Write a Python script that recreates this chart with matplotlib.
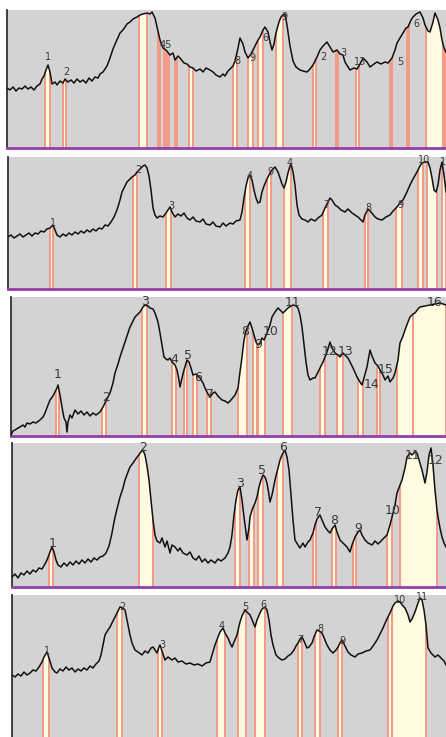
import matplotlib.pyplot as plt
import numpy as np

# figure size in pixels
W, H = 446, 737

# panel frames: (left x, top row, bottom row) in image pixels
frames = [(7, 10, 148), (8, 157, 289), (11, 297, 436), (12, 443, 587), (12, 595, 737)]

# traces: (x, row)
trace1 = [(7, 88), (10, 90), (13, 87), (16, 91), (19, 88), (22, 89), (25, 86), (28, 89), (31, 87), (34, 90),
          (37, 86), (40, 84), (42, 79), (44, 76), (46, 70), (48, 65), (50, 72), (52, 84), (55, 82), (57, 85),
          (60, 81), (63, 83), (65, 79), (68, 82), (71, 80), (74, 83), (77, 79), (80, 82), (83, 80), (86, 83),
          (89, 78), (92, 81), (95, 77), (98, 78), (100, 74), (103, 72), (105, 69), (107, 66), (110, 58), (113, 49),
          (116, 42), (120, 33), (123, 30), (127, 24), (130, 22), (133, 19), (137, 17), (140, 15), (143, 14), (147, 13),
          (150, 14), (152, 12), (155, 18), (157, 27), (160, 40), (163, 48), (166, 50), (170, 55), (173, 53), (175, 60),
          (178, 56), (180, 58), (184, 63), (187, 64), (190, 67), (193, 68), (196, 71), (200, 69), (203, 72), (206, 68),
          (210, 70), (213, 72), (216, 75), (220, 77), (223, 74), (225, 76), (228, 71), (230, 69), (233, 66), (235, 61),
          (238, 48), (240, 38), (243, 44), (245, 52), (248, 58), (251, 54), (255, 46), (258, 40), (260, 37), (263, 30),
          (265, 27), (268, 32), (270, 42), (272, 50), (274, 44), (276, 33), (279, 22), (281, 17), (283, 15), (285, 14),
          (287, 25), (290, 46), (293, 61), (296, 67), (300, 70), (303, 71), (307, 72), (310, 69), (313, 65), (317, 57),
          (320, 50), (323, 46), (327, 42), (330, 47), (333, 52), (337, 50), (340, 54), (343, 55), (345, 62), (348, 67),
          (350, 70), (354, 68), (357, 69), (360, 64), (363, 58), (367, 62), (370, 67), (374, 64), (377, 62), (381, 64),
          (385, 62), (388, 63), (392, 58), (395, 50), (397, 43), (400, 38), (403, 33), (406, 28), (408, 27), (411, 20),
          (413, 17), (416, 14), (420, 12), (423, 18), (425, 25), (428, 31), (430, 32), (433, 22), (435, 13), (438, 20),
          (440, 28), (442, 40), (444, 48), (446, 52)]

trace2 = [(8, 237), (11, 235), (14, 238), (17, 236), (20, 234), (23, 237), (26, 235), (29, 233), (32, 236), (35, 233),
          (38, 234), (41, 231), (44, 232), (47, 229), (50, 228), (53, 225), (55, 230), (57, 235), (60, 237), (63, 234),
          (66, 236), (69, 233), (72, 235), (75, 232), (78, 234), (81, 231), (84, 233), (87, 230), (90, 232), (93, 229),
          (96, 231), (99, 228), (102, 229), (105, 225), (108, 226), (111, 222), (114, 217), (117, 210), (120, 200), (122, 192),
          (125, 186), (127, 182), (130, 179), (132, 177), (135, 175), (137, 172), (140, 169), (143, 166), (145, 165), (147, 168),
          (149, 176), (151, 190), (153, 208), (155, 215), (157, 218), (160, 216), (163, 217), (166, 213), (168, 210), (170, 207),
          (172, 212), (175, 217), (178, 214), (181, 216), (184, 213), (187, 218), (190, 220), (193, 217), (196, 221), (200, 222),
          (203, 219), (206, 224), (210, 225), (213, 222), (216, 226), (220, 227), (223, 223), (226, 226), (230, 223), (233, 224),
          (236, 221), (240, 220), (242, 212), (244, 198), (246, 186), (248, 178), (250, 175), (252, 180), (254, 190), (256, 198),
          (258, 203), (260, 202), (262, 192), (264, 186), (267, 179), (270, 173), (272, 170), (275, 167), (278, 172), (280, 178),
          (282, 184), (284, 188), (286, 182), (288, 173), (290, 166), (291, 164), (293, 172), (295, 185), (297, 205), (299, 215),
          (302, 219), (305, 220), (308, 222), (311, 219), (315, 221), (318, 218), (322, 215), (325, 208), (327, 204), (330, 198),
          (332, 200), (335, 205), (338, 207), (341, 210), (345, 212), (348, 209), (352, 213), (355, 215), (358, 217), (361, 220),
          (363, 222), (365, 215), (368, 209), (371, 212), (375, 217), (378, 219), (382, 220), (386, 217), (390, 215), (393, 211),
          (397, 207), (400, 203), (403, 200), (406, 194), (410, 185), (413, 179), (417, 172), (420, 166), (422, 163), (425, 162),
          (428, 162), (430, 168), (432, 178), (434, 190), (436, 192), (438, 185), (440, 170), (442, 162), (444, 175), (446, 192)]

trace3 = [(11, 435), (13, 431), (15, 430), (18, 428), (20, 427), (23, 425), (25, 427), (27, 423), (30, 424), (33, 422),
          (36, 423), (40, 420), (43, 417), (45, 413), (48, 405), (50, 400), (53, 396), (55, 392), (57, 388), (58, 385),
          (60, 395), (62, 407), (64, 418), (66, 422), (67, 432), (68, 422), (70, 415), (72, 418), (75, 410), (78, 414),
          (81, 411), (84, 415), (87, 412), (90, 416), (93, 413), (96, 415), (100, 412), (103, 407), (105, 403), (108, 397),
          (110, 393), (113, 383), (115, 373), (118, 364), (120, 357), (123, 348), (125, 342), (128, 333), (130, 327), (133, 321),
          (135, 317), (138, 314), (140, 312), (143, 307), (145, 305), (148, 306), (150, 308), (153, 309), (155, 313), (158, 322),
          (160, 333), (162, 345), (164, 357), (166, 359), (168, 360), (170, 358), (172, 362), (175, 365), (177, 370), (179, 380),
          (180, 387), (182, 378), (184, 370), (187, 360), (189, 362), (191, 368), (193, 375), (196, 374), (200, 378), (203, 383),
          (205, 388), (208, 394), (210, 397), (213, 393), (215, 392), (218, 396), (222, 400), (225, 401), (228, 403), (231, 400),
          (235, 395), (238, 388), (240, 372), (242, 357), (244, 340), (246, 331), (248, 326), (250, 322), (252, 328), (254, 335),
          (256, 342), (258, 345), (260, 343), (262, 338), (264, 340), (267, 333), (270, 325), (272, 317), (275, 312), (278, 308),
          (281, 311), (283, 313), (286, 310), (288, 308), (291, 306), (293, 305), (296, 306), (298, 308), (300, 315), (302, 327),
          (304, 345), (306, 362), (308, 375), (310, 380), (313, 378), (315, 378), (318, 372), (320, 368), (323, 362), (325, 357),
          (327, 352), (330, 342), (332, 348), (335, 353), (338, 355), (340, 357), (343, 353), (345, 355), (348, 358), (350, 362),
          (353, 368), (357, 377), (360, 382), (362, 385), (364, 378), (367, 367), (369, 356), (370, 350), (372, 356), (375, 363),
          (378, 366), (380, 370), (383, 375), (385, 380), (388, 376), (390, 382), (393, 378), (395, 373), (398, 360), (400, 343),
          (403, 336), (405, 330), (408, 322), (410, 317), (413, 314), (415, 313), (418, 309), (420, 307), (425, 306), (430, 305),
          (435, 304), (440, 303), (443, 304), (446, 305)]

trace4 = [(12, 577), (15, 574), (18, 578), (21, 573), (24, 575), (27, 571), (30, 574), (33, 570), (36, 572), (39, 568),
          (42, 569), (45, 564), (47, 560), (50, 552), (52, 547), (54, 552), (56, 560), (58, 565), (61, 567), (64, 563),
          (67, 566), (70, 562), (73, 565), (76, 561), (79, 564), (82, 560), (85, 563), (88, 559), (91, 562), (94, 558),
          (97, 560), (100, 557), (103, 556), (106, 553), (109, 546), (112, 533), (114, 522), (116, 513), (118, 505), (120, 497),
          (123, 488), (125, 480), (128, 472), (130, 467), (133, 463), (135, 460), (138, 456), (140, 453), (143, 450), (145, 455),
          (147, 466), (149, 480), (151, 500), (153, 520), (155, 535), (157, 541), (160, 543), (162, 538), (165, 547), (167, 541),
          (170, 553), (172, 545), (175, 547), (178, 551), (180, 548), (183, 553), (187, 555), (190, 552), (193, 558), (196, 560),
          (199, 556), (202, 562), (205, 559), (208, 563), (211, 560), (215, 563), (218, 559), (221, 561), (225, 558), (228, 553),
          (230, 547), (232, 535), (234, 515), (236, 500), (238, 490), (240, 487), (242, 500), (244, 517), (246, 532), (247, 540),
          (249, 528), (250, 517), (252, 510), (255, 503), (257, 497), (259, 487), (261, 480), (263, 475), (265, 477), (267, 483),
          (269, 495), (270, 502), (272, 495), (275, 480), (277, 472), (280, 460), (282, 455), (285, 450), (287, 457), (289, 470),
          (291, 495), (293, 520), (295, 540), (298, 545), (300, 548), (303, 543), (305, 547), (308, 542), (310, 540), (313, 533),
          (315, 525), (317, 519), (320, 515), (322, 520), (325, 527), (328, 531), (330, 533), (332, 529), (335, 525), (337, 532),
          (340, 540), (343, 543), (347, 547), (350, 552), (352, 545), (355, 537), (358, 532), (360, 530), (362, 535), (365, 540),
          (368, 543), (372, 545), (375, 541), (378, 544), (380, 542), (384, 538), (387, 535), (390, 525), (392, 517), (395, 505),
          (397, 493), (400, 485), (402, 480), (405, 468), (407, 457), (410, 453), (412, 455), (415, 452), (417, 453), (419, 460),
          (422, 470), (425, 483), (427, 472), (429, 455), (431, 448), (433, 465), (435, 490), (437, 510), (438, 517), (440, 528),
          (442, 537), (444, 543), (446, 547)]

trace5 = [(12, 675), (15, 677), (18, 674), (21, 676), (24, 672), (27, 675), (30, 673), (33, 670), (36, 671), (39, 667),
          (42, 662), (44, 657), (47, 652), (49, 658), (52, 668), (55, 672), (57, 673), (60, 669), (63, 671), (66, 667),
          (69, 670), (72, 668), (75, 672), (78, 669), (81, 671), (84, 668), (87, 670), (90, 666), (93, 668), (96, 664),
          (99, 661), (101, 655), (103, 645), (105, 635), (108, 630), (110, 627), (113, 621), (115, 617), (118, 611), (120, 607),
          (123, 608), (125, 610), (128, 625), (130, 635), (132, 643), (135, 650), (138, 652), (142, 655), (145, 651), (148, 653),
          (151, 648), (153, 647), (155, 650), (157, 653), (159, 647), (160, 645), (162, 651), (165, 660), (168, 657), (172, 660),
          (175, 658), (178, 662), (182, 661), (186, 664), (190, 663), (194, 665), (198, 664), (202, 666), (206, 663), (210, 662),
          (212, 655), (215, 645), (218, 637), (220, 632), (223, 628), (225, 633), (228, 638), (230, 643), (232, 647), (234, 642),
          (237, 635), (240, 622), (242, 616), (245, 610), (247, 612), (250, 615), (253, 622), (255, 627), (257, 620), (260, 613),
          (262, 609), (265, 607), (267, 610), (269, 620), (271, 635), (273, 645), (276, 655), (279, 658), (282, 660), (285, 659),
          (288, 656), (291, 654), (294, 650), (296, 646), (298, 643), (300, 639), (302, 637), (304, 641), (307, 648), (309, 647),
          (312, 643), (314, 637), (317, 630), (319, 631), (322, 633), (325, 640), (327, 645), (330, 650), (333, 653), (336, 650),
          (338, 647), (340, 643), (342, 640), (345, 646), (348, 652), (351, 655), (355, 657), (358, 654), (362, 653), (366, 651),
          (370, 650), (373, 646), (377, 640), (380, 634), (383, 628), (386, 621), (390, 613), (393, 606), (395, 603), (398, 601),
          (400, 602), (403, 606), (405, 608), (408, 615), (410, 622), (412, 619), (415, 612), (418, 603), (420, 598), (422, 600),
          (424, 610), (426, 625), (428, 648), (431, 653), (435, 657), (438, 655), (441, 658), (444, 661), (446, 665)]

# integration bands (start x, end x)
bands1 = [(45, 50), (63, 66), (139, 147), (158, 160), (164, 166), (167, 169), (175, 177), (189, 193), (233, 237),
          (248, 253), (258, 263), (276, 283), (313, 316), (336, 338), (356, 359), (390, 392), (407, 409), (426, 443), (444, 446)]
bands2 = [(50, 53), (133, 137), (166, 171), (245, 250), (267, 271), (284, 291), (323, 328), (365, 368), (396, 402),
          (418, 423), (427, 437), (442, 446)]
bands3 = [(56, 59), (102, 106), (142, 147), (172, 176), (184, 187), (193, 197), (207, 211), (238, 247), (253, 257),
          (258, 265), (283, 292), (320, 325), (337, 343), (358, 363), (377, 380), (397, 413), (413, 446)]
bands4 = [(49, 53), (139, 153), (235, 240), (249, 254), (258, 263), (277, 283), (313, 316), (332, 336), (353, 356),
          (387, 392), (400, 437)]
bands5 = [(43, 49), (117, 122), (158, 162), (217, 225), (238, 246), (255, 265), (298, 302), (315, 320), (338, 342),
          (388, 392), (392, 426)]

# peak labels (text, x, row)
labels1 = [("1", 48, 57), ("2", 66, 72), ("45", 166, 45), ("8", 237, 61), ("9", 252, 58), ("6", 265, 38),
           ("9", 284, 17), ("2", 323, 57), ("3", 343, 53), ("13", 360, 62), ("5", 400, 62), ("6", 416, 24)]
labels2 = [("1", 53, 223), ("2", 138, 170), ("3", 171, 206), ("4", 250, 176), ("9", 270, 172), ("4", 290, 163),
           ("7", 326, 205), ("8", 368, 208), ("9", 400, 205), ("10", 424, 160), ("1", 443, 162)]
labels3 = [("1", 58, 375), ("2", 106, 398), ("3", 145, 302), ("4", 174, 360), ("5", 188, 356), ("6", 198, 378),
           ("7", 210, 395), ("8", 245, 332), ("9", 258, 345), ("10", 271, 332), ("11", 293, 303), ("12", 330, 352),
           ("13", 346, 352), ("14", 372, 385), ("15", 386, 370), ("16", 435, 303)]
labels4 = [("1", 53, 543), ("2", 143, 447), ("3", 240, 483), ("5", 262, 470), ("6", 283, 447), ("7", 318, 512),
           ("8", 334, 520), ("9", 358, 528), ("10", 393, 510), ("11", 413, 455), ("12", 436, 460)]
labels5 = [("1", 47, 651), ("2", 122, 607), ("3", 162, 645), ("4", 222, 626), ("5", 245, 607), ("6", 263, 605),
           ("7", 300, 640), ("8", 320, 629), ("9", 342, 641), ("10", 400, 600), ("11", 422, 597)]

traces = [trace1, trace2, trace3, trace4, trace5]
bands = [bands1, bands2, bands3, bands4, bands5]
labels = [labels1, labels2, labels3, labels4, labels5]
label_size = [7, 7, 9, 9, 7]

fig = plt.figure(figsize=(W / 100, H / 100), dpi=100)

for i in range(5):
    left, top, bottom = frames[i]
    ax = fig.add_axes([left / W, 1 - bottom / H, (W - left) / W, (bottom - top) / H])
    ax.set_facecolor('#d3d3d3')
    ax.set_xlim(left, W)
    ax.set_ylim(bottom, top)
    ax.set_xticks([])
    ax.set_yticks([])
    for s in ['top', 'right']:
        ax.spines[s].set_visible(False)
    ax.spines['left'].set_color('#333333')
    ax.spines['left'].set_linewidth(1.3)
    ax.spines['bottom'].set_color('#9040a8')
    ax.spines['bottom'].set_linewidth(2)
    # last panel runs off the bottom of the picture
    if i == 4:
        ax.spines['bottom'].set_visible(False)

    x = np.array([p[0] for p in traces[i]])
    y = np.array([p[1] for p in traces[i]])

    # area under the trace, used to clip the bands
    under = ax.fill_between(x, bottom, y, color='none', lw=0)
    clip = under.get_paths()[0]
    for a, b in bands[i]:
        sp = ax.axvspan(a, b, color='#fffbe0', lw=0, zorder=1)
        sp.set_clip_path(clip, ax.transData)
        for xv in (a, b):
            ln = ax.axvline(xv, color='#f29a88', lw=1.4, zorder=2)
            ln.set_clip_path(clip, ax.transData)

    ax.plot(x, y, color='#111111', lw=1.1, zorder=3)

    for t, tx, ty in labels[i]:
        ax.text(tx, ty, t, fontsize=label_size[i], color='#3a3a3a', ha='center', va='center', zorder=4)

fig.savefig('out.png', dpi=100)
